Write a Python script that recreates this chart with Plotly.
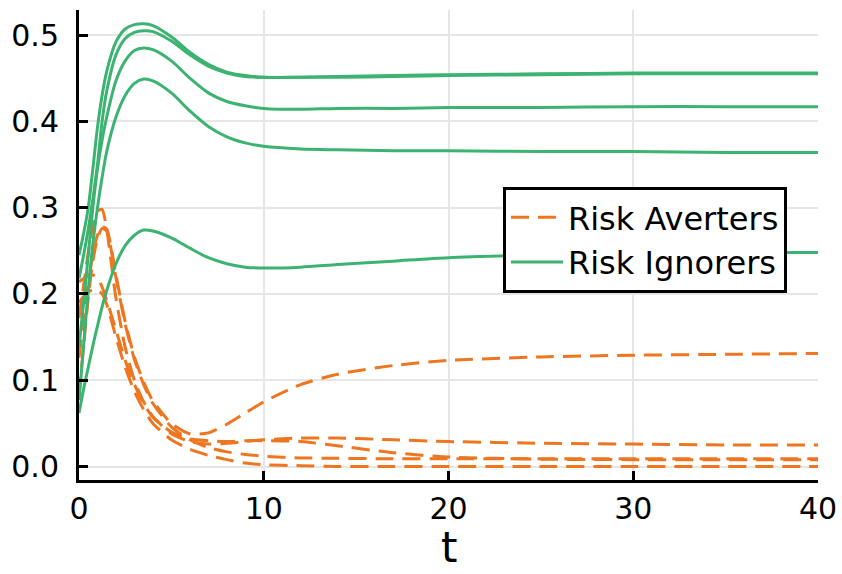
import plotly.graph_objects as go

# time grid (days)
t = [0, 0.25, 0.5, 0.75, 1, 1.25, 1.5, 2, 2.5, 3, 3.5, 4, 5, 6, 7, 8, 9, 10,
     12, 14, 17, 20, 25, 30, 35, 40]

# Risk Averters (dashed, orange)
ra_1 = [0.126, 0.17, 0.212, 0.245, 0.268, 0.278, 0.275, 0.222, 0.168, 0.127, 0.098, 0.076, 0.05,
        0.038, 0.039, 0.049, 0.062, 0.075, 0.095, 0.107, 0.117, 0.123, 0.127, 0.129, 0.130, 0.131]
ra_2 = [0.172, 0.21, 0.248, 0.278, 0.296, 0.298, 0.275, 0.195, 0.138, 0.1, 0.075, 0.058, 0.038,
        0.029, 0.026, 0.027, 0.029, 0.031, 0.033, 0.033, 0.031, 0.029, 0.027, 0.026, 0.025, 0.025]
ra_3 = [0.214, 0.218, 0.221, 0.222, 0.219, 0.208, 0.193, 0.158, 0.123, 0.095, 0.073, 0.057, 0.04,
        0.032, 0.03, 0.029, 0.03, 0.03, 0.029, 0.024, 0.016, 0.011, 0.0085, 0.008, 0.008, 0.008]
ra_4 = [0.083, 0.14, 0.195, 0.238, 0.264, 0.276, 0.273, 0.219, 0.165, 0.124, 0.095, 0.073, 0.046,
        0.031, 0.022, 0.017, 0.014, 0.012, 0.010, 0.0095, 0.009, 0.009, 0.009, 0.009, 0.009, 0.009]
ra_5 = [0.19, 0.197, 0.202, 0.205, 0.205, 0.2, 0.188, 0.15, 0.115, 0.087, 0.066, 0.05, 0.031,
        0.02, 0.013, 0.008, 0.004, 0.002, 0.001, 0.0, 0.0, 0.0, 0.0, 0.0, 0.0, 0.0]

# Risk Ignorers (solid, green)
ri_1 = [0.245, 0.27, 0.30, 0.345, 0.393, 0.43, 0.458, 0.492, 0.507, 0.512, 0.513, 0.511, 0.498,
        0.48, 0.466, 0.457, 0.453, 0.451, 0.451, 0.452, 0.453, 0.454, 0.455, 0.456, 0.456, 0.456]
ri_2 = [0.218, 0.245, 0.275, 0.31, 0.35, 0.40, 0.435, 0.477, 0.496, 0.503, 0.505, 0.504, 0.493,
        0.477, 0.464, 0.456, 0.452, 0.451, 0.451, 0.451, 0.452, 0.453, 0.454, 0.455, 0.455, 0.455]
ri_3 = [0.139, 0.19, 0.245, 0.30, 0.345, 0.378, 0.405, 0.447, 0.47, 0.482, 0.485, 0.483, 0.47,
        0.45, 0.433, 0.423, 0.418, 0.415, 0.414, 0.415, 0.415, 0.416, 0.416, 0.417, 0.417, 0.417]
ri_4 = [0.077, 0.14, 0.204, 0.258, 0.30, 0.335, 0.365, 0.405, 0.43, 0.444, 0.449, 0.447, 0.433,
        0.412, 0.394, 0.382, 0.375, 0.371, 0.368, 0.367, 0.366, 0.366, 0.365, 0.365, 0.364, 0.364]
ri_5 = [0.062, 0.09, 0.115, 0.14, 0.163, 0.185, 0.204, 0.235, 0.256, 0.268, 0.274, 0.273, 0.265,
        0.253, 0.242, 0.235, 0.231, 0.230, 0.231, 0.234, 0.238, 0.242, 0.245, 0.247, 0.248, 0.248]

averters = [ra_1, ra_2, ra_3, ra_4, ra_5]
ignorers = [ri_1, ri_2, ri_3, ri_4, ri_5]

ORANGE = "#EE7621"
GREEN = "#3CB371"
FONT = "DejaVu Sans"

fig = go.Figure()
for i, ys in enumerate(averters):
    fig.add_trace(go.Scatter(
        x=t, y=ys, mode="lines", name="Risk Averters",
        line=dict(color=ORANGE, width=3, dash="18px,9px", shape="spline", smoothing=0.6),
        showlegend=(i == 0), legendgroup="ra"))
for i, ys in enumerate(ignorers):
    fig.add_trace(go.Scatter(
        x=t, y=ys, mode="lines", name="Risk Ignorers",
        line=dict(color=GREEN, width=3, shape="spline", smoothing=0.8),
        showlegend=(i == 0), legendgroup="ri"))

axis_common = dict(
    showline=True, linecolor="black", linewidth=3,
    ticks="inside", ticklen=9, tickwidth=3, tickcolor="black",
    showgrid=True, gridcolor="#e6e6e6", gridwidth=1.5,
    zeroline=False, automargin=False,
    tickfont=dict(family=FONT, size=30, color="black"),
)

fig.update_layout(
    width=842, height=574,
    margin=dict(l=79, r=24, t=10, b=94),
    paper_bgcolor="white", plot_bgcolor="white",
    font=dict(family=FONT, color="black"),
    xaxis=dict(range=[0, 40], tickvals=[0, 10, 20, 30, 40],
               ticklabelstandoff=0, **axis_common),
    yaxis=dict(range=[-0.0156, 0.529], tickvals=[0, 0.1, 0.2, 0.3, 0.4, 0.5],
               tickformat=".1f", ticklabelstandoff=11, **axis_common),
    legend=dict(x=0.5737, y=0.6234, xanchor="left", yanchor="top",
                bgcolor="white", bordercolor="black", borderwidth=3,
                font=dict(family=FONT, size=32, color="black"),
                itemwidth=52, tracegroupgap=0),
    annotations=[dict(text="t", xref="paper", yref="paper", x=0.5, y=-0.2,
                      xanchor="center", yanchor="bottom", showarrow=False,
                      yshift=0, font=dict(family=FONT, size=42, color="black"))],
)

fig.write_html("out.html")
